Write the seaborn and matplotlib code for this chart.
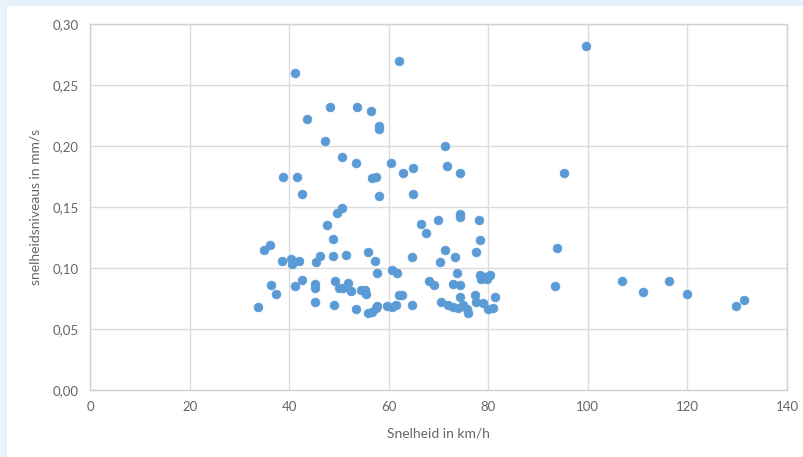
import matplotlib
matplotlib.use("Agg")
import matplotlib.pyplot as plt
import seaborn as sns
import pandas as pd
from matplotlib.patches import Rectangle
from matplotlib.ticker import FuncFormatter

speed_kmh = [
    99.6, 41.2, 62.1, 48.2, 53.6, 56.4, 58.1, 58.1, 43.6, 47.3,
    71.4, 50.6, 53.4, 60.4, 62.9, 64.9, 71.8, 74.3, 95.3, 38.7,
    41.5, 56.6, 57.4, 42.5, 58.1, 64.9, 49.6, 50.6, 47.7, 48.9,
    74.3, 74.3, 78.1, 69.8, 66.4, 67.4, 78.3, 93.9, 35.0, 36.2,
    38.5, 40.3, 40.5, 42.0, 45.4, 46.2, 48.9, 51.4, 55.9, 57.2,
    57.6, 64.6, 70.3, 71.3, 73.3, 77.5, 60.6, 61.6, 73.7, 78.3,
    79.3, 80.3, 78.5, 79.8, 36.3, 37.4, 41.2, 42.5, 45.2, 45.2,
    45.2, 49.2, 50.1, 50.9, 51.9, 52.4, 54.4, 55.2, 55.4, 62.1,
    62.6, 68.0, 69.0, 72.9, 74.3, 93.3, 106.9, 111.1, 116.2, 120.0,
    129.7, 131.4, 33.8, 49.0, 53.4, 55.9, 56.6, 57.4, 57.7, 59.6,
    60.6, 61.5, 64.6, 70.6, 72.0, 73.0, 74.0, 74.3, 75.0, 75.7,
    76.0, 77.3, 77.5, 79.0, 80.0, 81.0, 81.3,
]
level_mms = [
    0.282, 0.260, 0.270, 0.232, 0.232, 0.229, 0.216, 0.214, 0.222, 0.204,
    0.200, 0.191, 0.186, 0.186, 0.178, 0.182, 0.184, 0.178, 0.178, 0.175,
    0.175, 0.174, 0.175, 0.161, 0.159, 0.161, 0.145, 0.149, 0.135, 0.124,
    0.144, 0.142, 0.139, 0.139, 0.136, 0.129, 0.123, 0.116, 0.115, 0.119,
    0.106, 0.107, 0.103, 0.106, 0.105, 0.110, 0.110, 0.111, 0.113, 0.106,
    0.096, 0.109, 0.105, 0.115, 0.109, 0.113, 0.098, 0.096, 0.096, 0.094,
    0.093, 0.094, 0.091, 0.091, 0.086, 0.079, 0.085, 0.090, 0.087, 0.084,
    0.072, 0.089, 0.084, 0.084, 0.088, 0.081, 0.082, 0.082, 0.079, 0.078,
    0.078, 0.089, 0.086, 0.087, 0.086, 0.085, 0.089, 0.080, 0.089, 0.079,
    0.069, 0.074, 0.068, 0.070, 0.066, 0.063, 0.064, 0.067, 0.069, 0.069,
    0.068, 0.070, 0.070, 0.072, 0.070, 0.068, 0.067, 0.076, 0.070, 0.066,
    0.063, 0.078, 0.072, 0.071, 0.066, 0.067, 0.076,
]
x_ticks = [0, 20, 40, 60, 80, 100, 120, 140]
y_ticks = [0.00, 0.05, 0.10, 0.15, 0.20, 0.25, 0.30]
x_label = "Snelheid in km/h"
y_label = "snelheidsniveaus in mm/s"

df = pd.DataFrame({"speed": speed_kmh, "level": level_mms})

W, H = 804, 457
fig = plt.figure(figsize=(W / 100, H / 100), dpi=100)
fig.patch.set_facecolor("#e6f2fc")
fig.add_artist(Rectangle((7 / W, 0), 1 - 7 / W, 1 - 6 / H, transform=fig.transFigure,
                         facecolor="white", edgecolor="none", zorder=0))

ax = fig.add_axes([90 / W, (H - 390) / H, 697 / W, 366 / H])
ax.set_facecolor("white")

sns.scatterplot(data=df, x="speed", y="level", ax=ax, color="#5b9bd5",
                s=40, edgecolor="#5b9bd5", linewidth=0.5, zorder=3)

ax.set_xlim(0, 140)
ax.set_ylim(0, 0.30)
ax.set_xticks(x_ticks)
ax.set_yticks(y_ticks)
ax.yaxis.set_major_formatter(FuncFormatter(lambda v, p: f"{v:.2f}".replace(".", ",")))
ax.grid(True, color="#dcdcdc", linewidth=1.0, zorder=0)
ax.set_axisbelow(True)
for sp in ax.spines.values():
    sp.set_color("#d0d0d0")
    sp.set_linewidth(1.0)
ax.tick_params(length=0, colors="#666666", labelsize=9.5, pad=8)
fam = ["Lato", "DejaVu Sans"]
for lbl in ax.get_xticklabels() + ax.get_yticklabels():
    lbl.set_family(fam)
ax.set_xlabel(x_label, color="#666666", fontsize=10, family=fam, labelpad=10)
ax.set_ylabel(y_label, color="#666666", fontsize=10, family=fam, labelpad=8)

fig.savefig("out.png", dpi=100, facecolor=fig.get_facecolor())
